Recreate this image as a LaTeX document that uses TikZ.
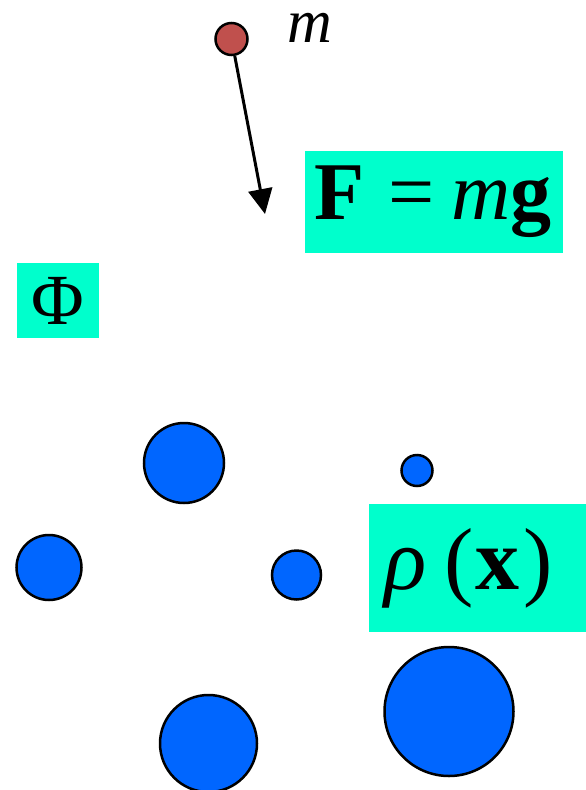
\documentclass[tikz,border=0pt]{standalone}
\usepackage{fontspec}
\setmainfont{Liberation Serif}
\usepackage{xcolor}
\usetikzlibrary{calc, arrows.meta, positioning}

\definecolor{hopxanh}{HTML}{00FFCC}
\definecolor{bongxanh}{HTML}{0066FF}
\definecolor{bongdo}{HTML}{C0504D}

\begin{document}
\begin{tikzpicture}[x=1pt, y=-1pt,
    >={Triangle[length=25pt, width=24pt]},
    hop/.style={fill=hopxanh, inner sep=0pt, align=center},
    bong/.style={circle, draw=black, line width=2.5pt, fill=bongxanh, inner sep=0pt}]

    \useasboundingbox (0,0) rectangle (586,790);

    % =================================================================
    % 1. CHAT DIEM m VA LUC HUT
    % =================================================================
    \node[bong, fill=bongdo, minimum size=32pt] (khoi) at (231.5,39) {};
    \node[anchor=base, inner sep=0pt, font=\fontsize{62}{66}\selectfont\itshape] (nhanm) at (310,42) {m};

    % Dau mui ten luc
    \coordinate (dinh) at (265,214);
    \draw[->, line width=3pt] (khoi) -- (dinh);

    % =================================================================
    % 2. CAC HOP NHAN
    % =================================================================
    \node[hop, minimum width=258pt, minimum height=102pt,
          font=\fontsize{82}{90}\selectfont] (luc) at (434,202)
        {\textbf{F}\hspace{0.3em}=\hspace{0.2em}\textit{m}\textbf{g}\kern2pt};

    \node[hop, minimum width=82pt, minimum height=75pt,
          font=\fontsize{72}{80}\selectfont] (thewn) at (58,300.5) {Φ};

    \node[hop, minimum width=217pt, minimum height=128pt,
          font=\fontsize{88}{94}\selectfont] (matdo) at (477.5,568)
        {\textit{ρ}\hspace{0.2em}(\kern2pt\textbf{x}\kern4pt)\kern17pt};

    % =================================================================
    % 3. CAC KHOI LUONG PHAN BO
    % =================================================================
    \node[bong, minimum size=80pt]  (b1) at (184,463) {};
    \node[bong, minimum size=31pt]  (b2) at (417,470.5) {};
    \node[bong, minimum size=65pt]  (b3) at (49,567.5) {};
    \node[bong, minimum size=49pt]  (b4) at (296.5,575) {};
    \node[bong, minimum size=97pt]  (b5) at (208.5,743.5) {};
    \node[bong, minimum size=129pt] (b6) at (449,711.5) {};

\end{tikzpicture}
\end{document}
